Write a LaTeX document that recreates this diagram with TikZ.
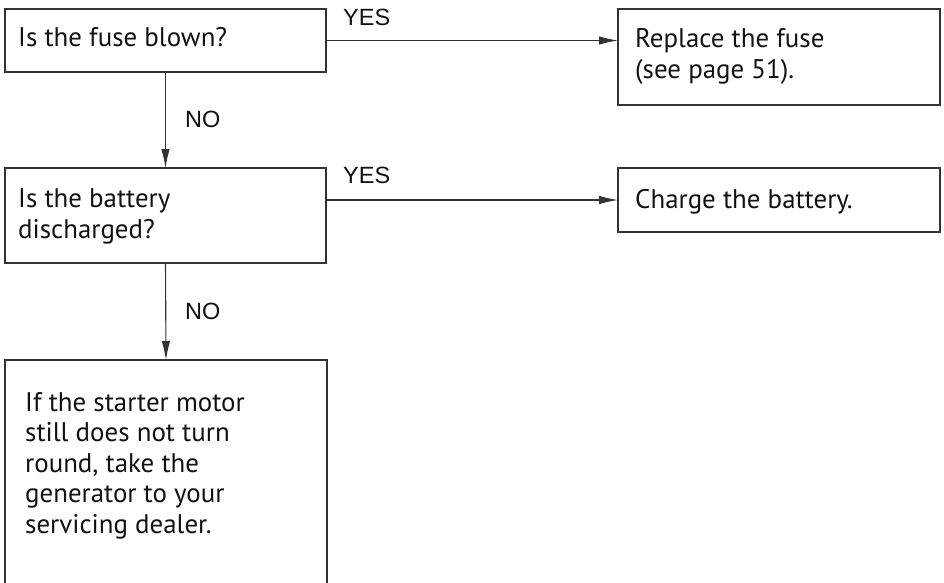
\documentclass[tikz,border=0pt]{standalone}
\usepackage{fontspec}
\setmainfont{PT Sans}
\newfontfamily\lblfont{Liberation Sans}
\usetikzlibrary{arrows.meta}
\definecolor{boxgray}{HTML}{333333}
\definecolor{txtblack}{HTML}{111111}
\begin{document}
\begin{tikzpicture}[x=1pt,y=-1pt,
  box/.style={draw=boxgray, line width=1.3pt, inner sep=0pt, outer sep=0pt, anchor=north west},
  txt/.style={anchor=base west, inner sep=0pt, text=txtblack, font=\fontsize{26.9}{30.5}\selectfont, align=left},
  lbl/.style={anchor=base west, inner sep=0pt, text=txtblack, font=\lblfont\fontsize{23.5}{30}\selectfont},
  arr/.style={-{Latex[length=19pt,width=8.5pt]}, line width=1.1pt, draw=boxgray}]
\useasboundingbox (0,0) rectangle (944,582);
\clip (0,0) rectangle (944,582);
% boxes
\node[box, minimum width=321pt, minimum height=63pt] (b1) at (5,9) {};
\node[box, minimum width=322pt, minimum height=96pt] (b2) at (618,9) {};
\node[box, minimum width=321pt, minimum height=95pt] (b3) at (5,168) {};
\node[box, minimum width=322pt, minimum height=64pt] (b4) at (618,168) {};
\node[box, minimum width=322pt, minimum height=240pt] (b5) at (5,360) {};
% texts (anchor = baseline of last line)
\node[txt] (t1) at (18,46) {Is the fuse blown?};
\node[txt] (t2) at (635,78) {Replace the fuse\\(see page 51).};
\node[txt] (t3) at (18,238) {Is the battery\\discharged?};
\node[txt] (t4) at (635,208) {Charge the battery.};
\node[txt] (t5) at (25,533) {If the starter motor\\still does not turn\\round, take the\\generator to your\\servicing dealer.};
% connectors
\draw[arr] (b1.east) -- (b1.east -| b2.west);
\draw[arr] (b4.west -| b3.east) -- (b4.west);
\draw[arr] (b1.south) -- (b3.north);
\draw[arr] (b3.south) -- (b5.north);
% labels
\node[lbl] (y1) at (343,25) {YES};
\node[lbl] (y2) at (343,183) {YES};
\node[lbl] (n1) at (185,127) {NO};
\node[lbl] (n2) at (185,319) {NO};
\end{tikzpicture}
\end{document}
